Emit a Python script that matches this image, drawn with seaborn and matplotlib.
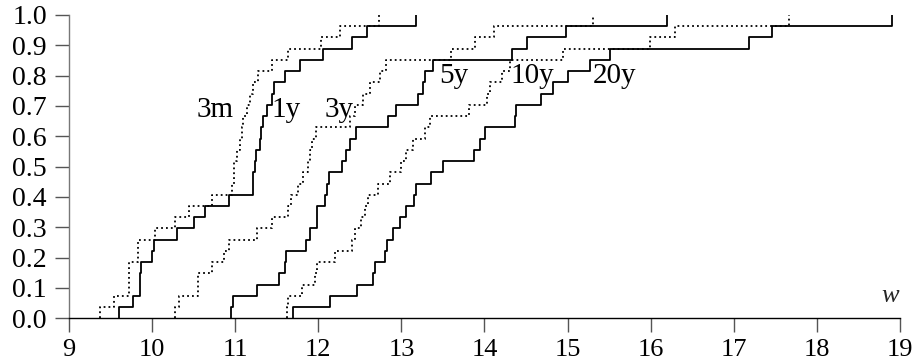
import matplotlib
matplotlib.use("Agg")
import matplotlib.pyplot as plt
from matplotlib.ticker import FormatStrFormatter
import seaborn as sns

# Sorted sample values of w for each horizon (27 observations each)
w_3m = [9.37, 9.545, 9.72, 9.72, 9.72, 9.83, 9.835, 10.03, 10.27, 10.44, 10.72,
        10.96, 10.98, 10.99, 11.02, 11.06, 11.08, 11.10, 11.14, 11.18, 11.22,
        11.28, 11.44, 11.64, 12.03, 12.26, 12.73]
w_1y = [9.60, 9.77, 9.85, 9.855, 9.865, 10.00, 10.02, 10.30, 10.51, 10.64, 10.93,
        11.21, 11.22, 11.24, 11.25, 11.30, 11.31, 11.34, 11.38, 11.44, 11.47,
        11.60, 11.78, 12.06, 12.40, 12.59, 13.17]
w_3y = [10.28, 10.32, 10.55, 10.555, 10.72, 10.87, 10.93, 11.26, 11.44, 11.64,
        11.67, 11.76, 11.82, 11.88, 11.90, 11.92, 11.97, 12.38, 12.44, 12.54,
        12.62, 12.74, 12.82, 13.60, 13.89, 14.11, 15.30]
w_5y = [10.95, 10.97, 11.26, 11.53, 11.60, 11.61, 11.85, 11.90, 11.98, 11.99,
        12.08, 12.10, 12.13, 12.28, 12.33, 12.38, 12.45, 12.84, 12.94, 13.20,
        13.26, 13.28, 13.38, 14.33, 14.51, 14.98, 16.19]
w_10y = [11.62, 11.63, 11.80, 11.96, 11.99, 12.20, 12.40, 12.44, 12.52, 12.56,
         12.60, 12.72, 12.86, 13.00, 13.06, 13.14, 13.29, 13.34, 13.81, 14.03,
         14.07, 14.21, 14.31, 14.95, 15.99, 16.29, 17.66]
w_20y = [11.70, 12.14, 12.46, 12.66, 12.68, 12.80, 12.83, 12.90, 12.98, 13.06,
         13.15, 13.18, 13.36, 13.50, 13.87, 13.95, 14.01, 14.37, 14.375, 14.68,
         14.83, 15.00, 15.27, 15.51, 17.18, 17.46, 18.90]

series_names = ["3m", "1y", "3y", "5y", "10y", "20y"]
series_values = [w_3m, w_1y, w_3y, w_5y, w_10y, w_20y]
series_dotted = [True, False, True, False, True, False]
label_pos = [(10.54, 0.664), (11.44, 0.664), (12.07, 0.664),
             (13.45, 0.777), (14.31, 0.777), (15.30, 0.777)]

x_ticks = list(range(9, 20))
y_ticks = [i / 10 for i in range(11)]

sns.set_style("ticks")
plt.rcParams["font.family"] = ["Liberation Serif", "DejaVu Serif"]

fig = plt.figure(figsize=(9.17, 3.64), dpi=100)
ax = fig.add_axes([0.0752, 0.1255, 0.9063, 0.8333])

for name, vals, dotted in zip(series_names, series_values, series_dotted):
    ls = (0, (1, 1.7)) if dotted else "-"
    sns.ecdfplot(x=vals, ax=ax, color="black", linewidth=1.3, linestyle=ls)

for name, (lx, ly) in zip(series_names, label_pos):
    ax.text(lx, ly, name, fontsize=21, ha="left", va="baseline", color="black")

ax.text(18.78, 0.053, "w", fontsize=19, style="italic", ha="left", va="baseline")

ax.set_xlim(9, 19)
ax.set_ylim(0, 1)
ax.set_xticks(x_ticks)
ax.set_yticks(y_ticks)
ax.yaxis.set_major_formatter(FormatStrFormatter("%.1f"))
ax.set_xlabel("")
ax.set_ylabel("")

for side in ("top", "right"):
    ax.spines[side].set_visible(False)
ax.spines["left"].set_color("#777777")
ax.spines["bottom"].set_color("black")
ax.spines["left"].set_linewidth(1.0)
ax.spines["bottom"].set_linewidth(1.0)
ax.tick_params(direction="out", length=10, width=1.0, color="#555555",
               labelsize=19, pad=5, labelcolor="black")
ax.tick_params(axis="y", labelsize=20, pad=6)

fig.savefig("out.png", dpi=100)
